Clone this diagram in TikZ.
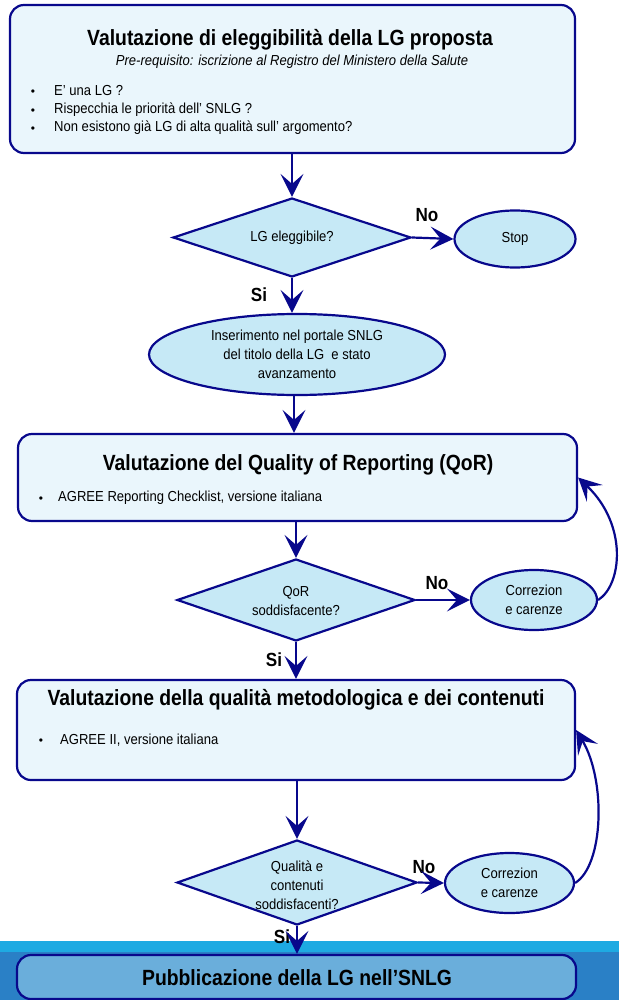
\documentclass[tikz,border=0pt]{standalone}
\usepackage{fontspec}
\setmainfont{Liberation Sans}
\newfontfamily\cond[FakeStretch=0.9]{Liberation Sans}
\newfontfamily\condtitle[FakeStretch=0.88]{Liberation Sans}
\usetikzlibrary{shapes.geometric,arrows.meta}
\definecolor{navy}{RGB}{8,8,140}
\definecolor{boxfill}{RGB}{234,246,252}
\definecolor{shapefill}{RGB}{198,233,246}
\definecolor{bandlight}{RGB}{30,170,226}
\definecolor{banddark}{RGB}{42,128,198}
\definecolor{boxfourfill}{RGB}{106,174,219}
\tikzset{
  bigbox/.style={rectangle, rounded corners=14pt, draw=navy, line width=2.2pt, fill=boxfill, inner sep=0pt},
  decision/.style={diamond, draw=navy, line width=2.2pt, fill=shapefill, inner sep=0pt},
  shapetext/.style={inner sep=0pt, align=center, font=\cond\fontsize{14.5}{19}\selectfont},
  oval/.style={ellipse, draw=navy, line width=2.2pt, fill=shapefill, inner sep=0pt, align=center, font=\cond\fontsize{14.5}{19}\selectfont},
  titletext/.style={inner sep=0pt, font=\condtitle\bfseries\fontsize{22}{24}\selectfont},
  subtext/.style={inner sep=0pt, font=\cond\itshape\fontsize{14.5}{16}\selectfont},
  itemtext/.style={inner sep=0pt, anchor=west, font=\cond\fontsize{14.5}{16}\selectfont},
  bullettext/.style={inner sep=0pt, font=\fontsize{12}{14}\selectfont},
  answer/.style={inner sep=0pt, font=\cond\bfseries\fontsize{19}{21}\selectfont},
  arr/.style={draw=navy, line width=2.2pt, -{Stealth[length=23pt,width=23pt,inset=10pt]}},
}
\begin{document}
\begin{tikzpicture}[x=1pt,y=-1pt]
\useasboundingbox (0,0) rectangle (619,1000);
% bottom band
\fill[bandlight] (0,941) rectangle (619,952);
\fill[banddark] (0,952) rectangle (619,1000);

% box 1
\node[bigbox, minimum width=565, minimum height=148] (b1) at (292.5,79) {};
\node[titletext] (t1) at (290,40) {Valutazione di eleggibilità della LG proposta};
\node[subtext] (s1) at (292,62) {Pre-requisito: iscrizione al Registro del Ministero della Salute};
\node[bullettext] (p11) at (33,92.5) {•};
\node[itemtext] (i11) at (54,91) {E’ una LG ?};
\node[bullettext] (p12) at (33,111.5) {•};
\node[itemtext] (i12) at (54,110) {Rispecchia le priorità dell’ SNLG ?};
\node[bullettext] (p13) at (33,129.5) {•};
\node[itemtext] (i13) at (54,128) {Non esistono già LG di alta qualità sull’ argomento?};

% decision 1
\node[decision, minimum width=238, minimum height=79] (d1) at (292,237.5) {};
\node[shapetext] (d1t) at (292,238) {LG eleggibile?};
\node[oval, minimum width=121, minimum height=57] (stop) at (515,239) {Stop};
\node[oval, minimum width=296, minimum height=81] (e2) at (297,354.5) {Inserimento nel portale SNLG\\del titolo della LG\ \ e stato\\avanzamento};

% box 2
\node[bigbox, minimum width=559, minimum height=87] (b2) at (297.5,477.5) {};
\node[titletext] (t2) at (298,465) {Valutazione del Quality of Reporting (QoR)};
\node[bullettext] (p21) at (41,499.5) {•};
\node[itemtext] (i21) at (58,498) {AGREE Reporting Checklist, versione italiana};

% decision 2
\node[decision, minimum width=238, minimum height=82] (d2) at (296,600) {};
\node[shapetext] (d2t) at (296,601) {QoR\\soddisfacente?};
\node[oval, minimum width=126, minimum height=60] (c1) at (534,600) {Correzion\\e carenze};

% box 3
\node[bigbox, minimum width=558, minimum height=100] (b3) at (296,730) {};
\node[titletext] (t3) at (296,700) {Valutazione della qualità metodologica e dei contenuti};
\node[bullettext] (p31) at (41,741.5) {•};
\node[itemtext] (i31) at (60,740) {AGREE II, versione italiana};

% decision 3
\node[decision, minimum width=240, minimum height=85] (d3) at (297,882.5) {};
\node[shapetext] (d3t) at (297,885) {Qualità e\\contenuti\\soddisfacenti?};
\node[oval, minimum width=129, minimum height=60] (c2) at (509.5,883) {Correzion\\e carenze};

% box 4
\node[bigbox, fill=boxfourfill, minimum width=559, minimum height=44] (b4) at (296.5,977) {};
\node[titletext] (t4) at (297,978) {Pubblicazione della LG nell’SNLG};

% labels
\node[answer] (no1) at (427,215) {No};
\node[answer] (si1) at (259,295) {Si};
\node[answer] (no2) at (437,583) {No};
\node[answer] (si2) at (274,660) {Si};
\node[answer] (no3) at (424,867) {No};
\node[answer] (si3) at (282,937) {Si};

% connectors
\draw[arr] (b1.south -| d1.north) -- (d1.north);
\draw[arr] (d1.east) -- (stop.west);
\draw[arr] (d1.south) -- (d1.south |- e2.north);
\draw[arr] (e2.south -| 294,0) -- (294,0 |- b2.north);
\draw[arr] (b2.south -| d2.north) -- (d2.north);
\draw[arr] (d2.east) -- (c1.west);
\draw[arr] (c1.east) .. controls (622,585) and (628,525) .. (b2.east);
\draw[arr] (d2.south) -- (d2.south |- b3.north);
\draw[arr] (b3.south -| d3.north) -- (d3.north);
\draw[arr] (d3.east) -- (c2.west);
\draw[arr] (c2.east) .. controls (604,865) and (606,780) .. (b3.east);
\draw[arr] (d3.south) -- (d3.south |- b4.north);
\end{tikzpicture}
\end{document}
